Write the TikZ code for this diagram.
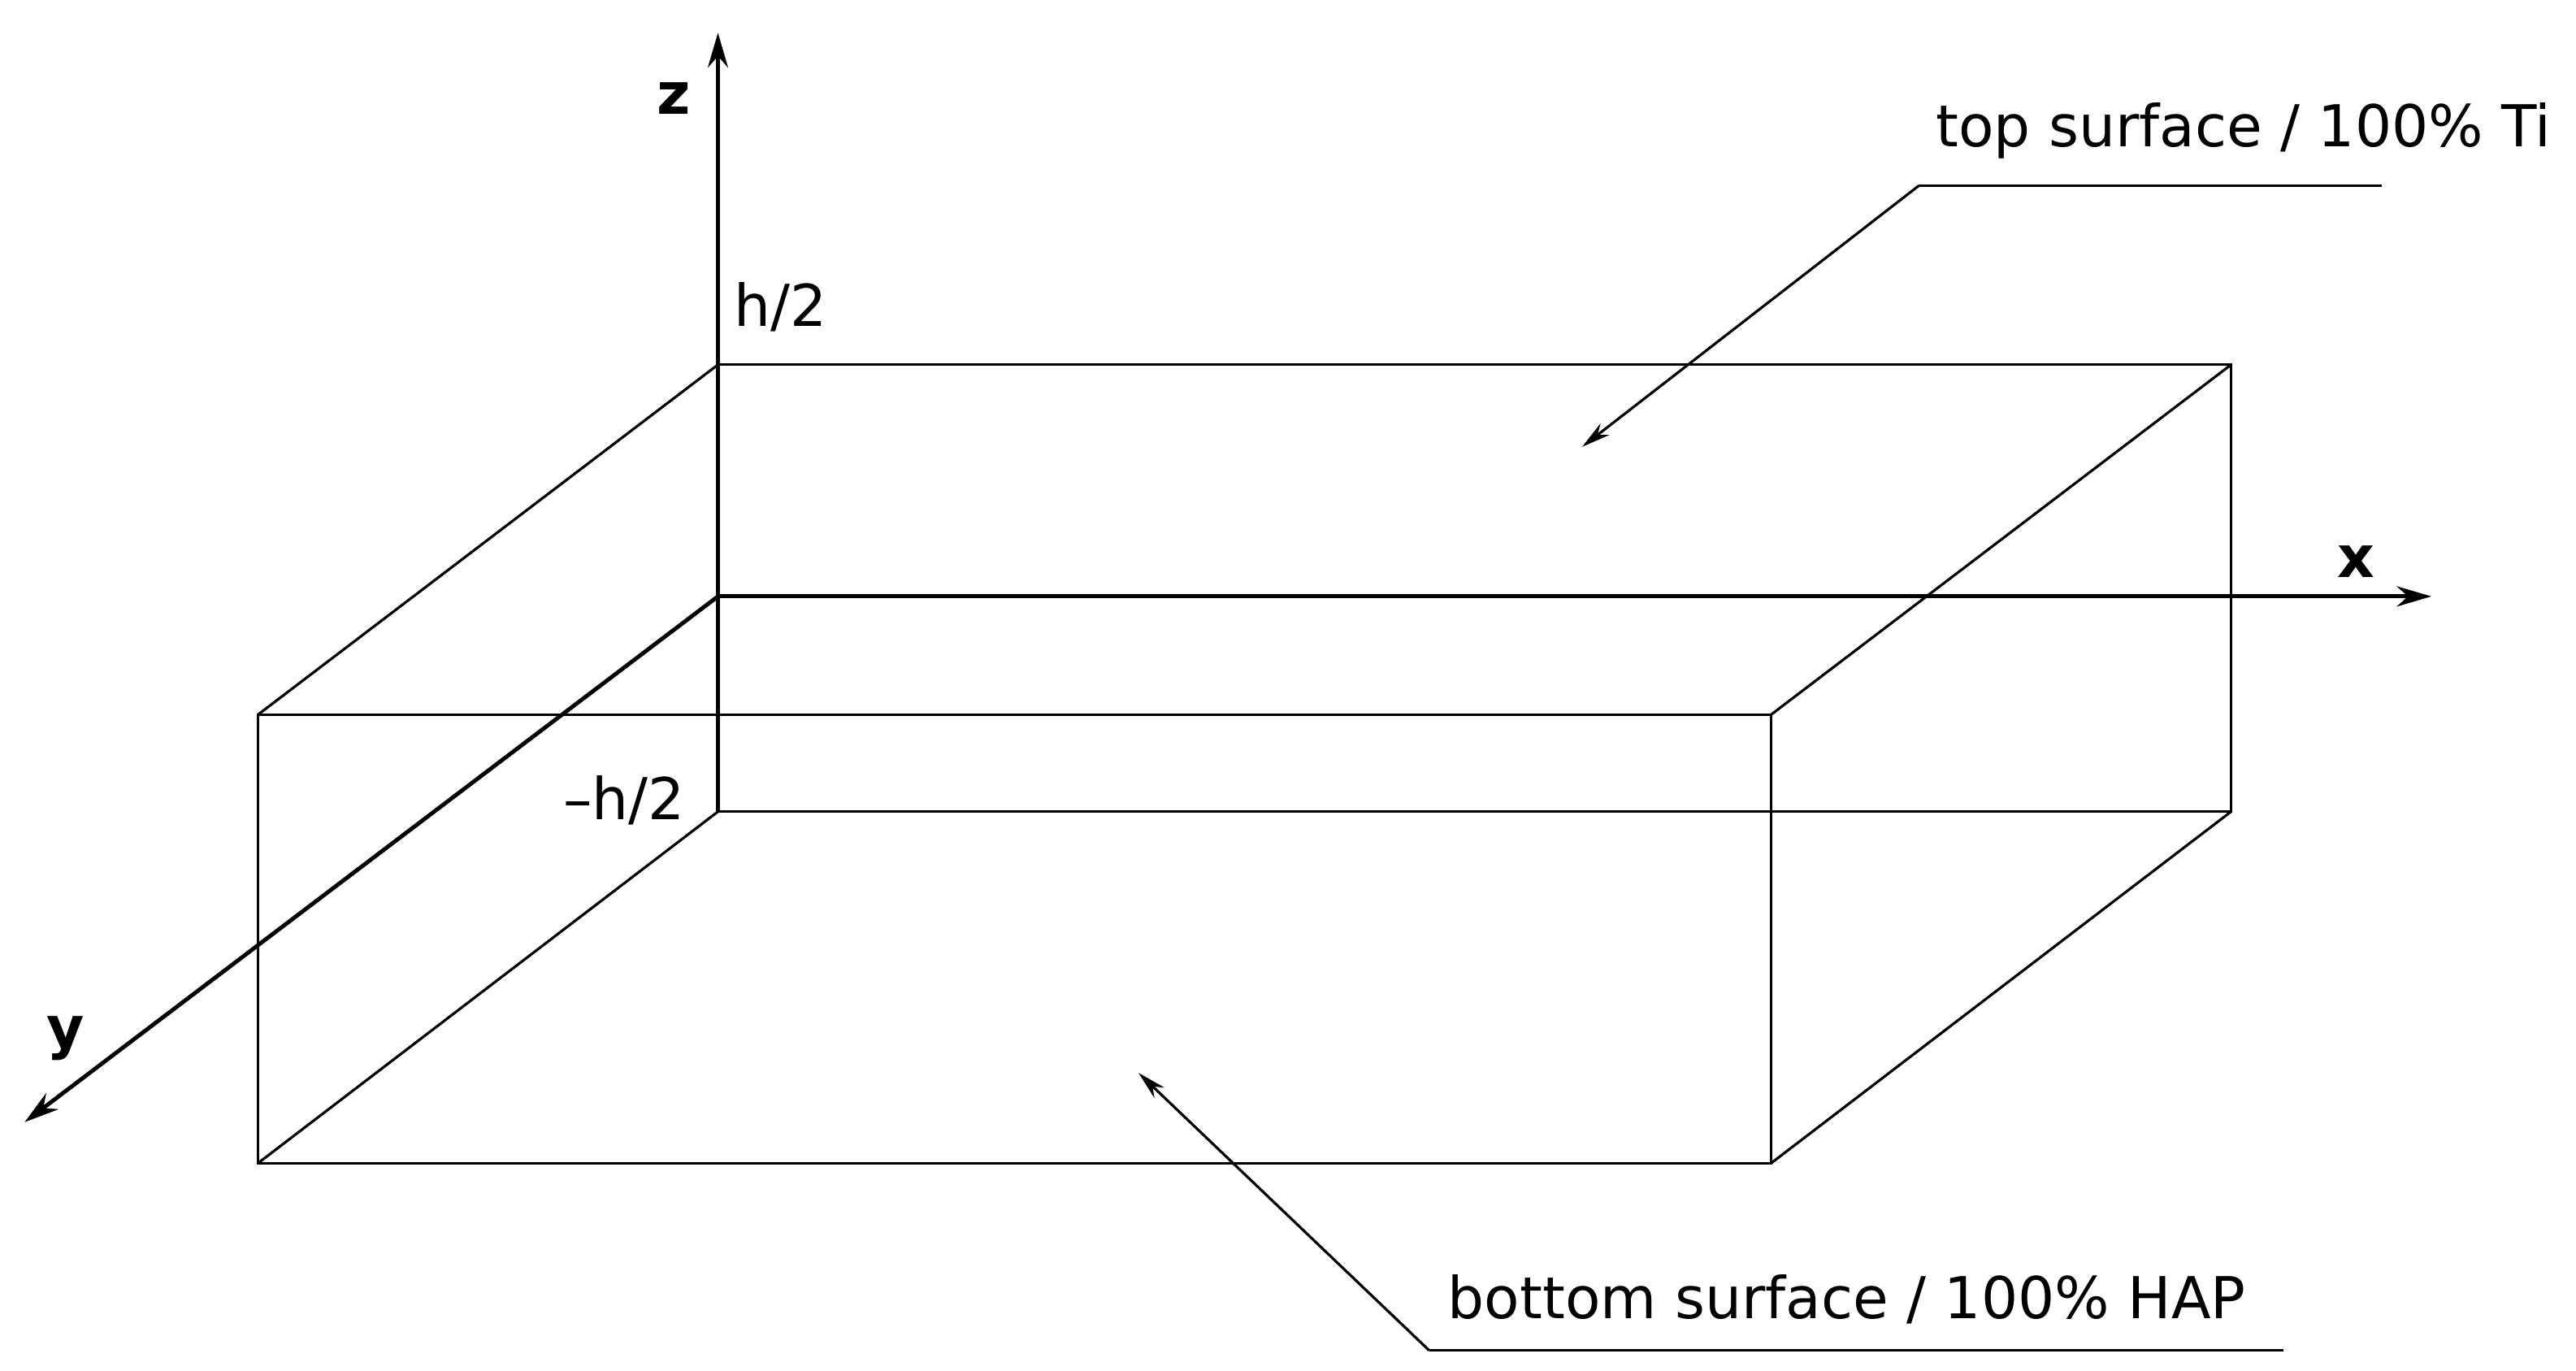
\documentclass[tikz,border=0pt]{standalone}
\usepackage{fontspec}
\setmainfont{DejaVu Sans}
\usetikzlibrary{arrows.meta}
\begin{document}
\begin{tikzpicture}[x=0.02cm,y=-0.02cm,
  edge/.style={line width=0.9pt},
  axis/.style={line width=1.4pt,-{Stealth[length=12pt,width=7pt]}},
  lead/.style={line width=0.9pt,-{Stealth[length=10pt,width=5pt]}},
  lbl/.style={font=\fontsize{20}{24}\selectfont,inner sep=0pt},
  axlbl/.style={font=\fontsize{20}{24}\selectfont\bfseries,inner sep=0pt}]
\useasboundingbox (0,0) rectangle (1568,834);
% box corners
\coordinate (bt1) at (437,222); \coordinate (bt2) at (1358,222);
\coordinate (bb1) at (437,494); \coordinate (bb2) at (1358,494);
\coordinate (ft1) at (157,435); \coordinate (ft2) at (1078,435);
\coordinate (fb1) at (157,708); \coordinate (fb2) at (1078,708);
\draw[edge] (bt1)--(bt2)--(bb2)--(bb1);
\draw[edge] (ft1)--(ft2)--(fb2)--(fb1)--cycle;
\draw[edge] (bt1)--(ft1) (bt2)--(ft2) (bb2)--(fb2) (bb1)--(fb1);
% axes
\coordinate (o) at (437,363);
\coordinate (zend) at (437,20); \coordinate (xend) at (1480,363); \coordinate (yend) at (15,683);
\draw[axis] (bb1)--(zend);
\draw[axis] (o)--(xend);
\draw[axis] (o)--(yend);
\node[axlbl] (zl) at (410,60) {z};
\node[axlbl] (xl) at (1434,342) {x};
\node[axlbl] (yl) at (40,632) {y};
\node[lbl] (hp) at (475,187) {h/2};
\node[lbl] (hm) at (380,487) {–h/2};
% leaders
\node[lbl,anchor=south west] (top) at (1178,97) {top surface / 100\% Ti};
\coordinate (tu1) at (1168,113); \coordinate (tu2) at (1450,113); \coordinate (ta) at (963,272);
\draw[edge] (tu1)--(tu2);
\draw[lead] (tu1)--(ta);
\node[lbl,anchor=south west] (bot) at (881,806) {bottom surface / 100\% HAP};
\coordinate (bu1) at (870,822); \coordinate (bu2) at (1390,822); \coordinate (ba) at (693,653);
\draw[edge] (bu1)--(bu2);
\draw[lead] (bu1)--(ba);
\end{tikzpicture}
\end{document}
